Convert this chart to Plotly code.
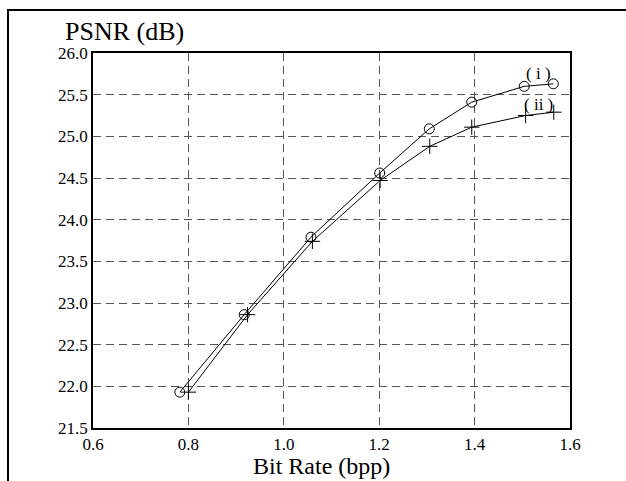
import plotly.graph_objects as go

# PSNR versus bit rate for the two coding schemes
rate_i = [0.782, 0.917, 1.057, 1.201, 1.305, 1.394, 1.504, 1.565]
psnr_i = [21.93, 22.86, 23.79, 24.56, 25.09, 25.41, 25.60, 25.63]

rate_ii = [0.800, 0.924, 1.060, 1.202, 1.306, 1.394, 1.507, 1.566]
psnr_ii = [21.93, 22.86, 23.74, 24.47, 24.88, 25.11, 25.25, 25.29]

x_ticks = [0.6, 0.8, 1.0, 1.2, 1.4, 1.6]
y_ticks = [21.5, 22.0, 22.5, 23.0, 23.5, 24.0, 24.5, 25.0, 25.5, 26.0]

SERIF = "Liberation Serif"

W, H = 626, 481
ML, MR, MT, MB = 93, W - 570, 53, H - 428

fig = go.Figure()
fig.add_trace(go.Scatter(
    x=rate_i, y=psnr_i, mode="lines+markers", name="(i)",
    line=dict(color="black", width=1),
    marker=dict(symbol="circle-open", size=10, color="black", line=dict(width=1)),
))
fig.add_trace(go.Scatter(
    x=rate_ii, y=psnr_ii, mode="lines+markers", name="(ii)",
    line=dict(color="black", width=1),
    marker=dict(symbol="cross-thin-open", size=11, color="black", line=dict(width=1, color="black")),
))

# curve labels
fig.add_annotation(x=1.535, y=25.76, text="( i )", showarrow=False,
                   font=dict(family=SERIF, size=17, color="black"))
fig.add_annotation(x=1.535, y=25.38, text="( ii )", showarrow=False,
                   font=dict(family=SERIF, size=17, color="black"))

# helpers converting pixel positions to paper coordinates
def px_x(p):
    return (p - ML) / (W - ML - MR)

def px_y(p):
    return (H - MB - p) / (H - MT - MB)

# axis titles
fig.add_annotation(xref="paper", yref="paper", x=px_x(63), y=px_y(32),
                   xanchor="left", yanchor="middle", text="PSNR (dB)", showarrow=False,
                   font=dict(family=SERIF, size=26, color="black"))
fig.add_annotation(xref="paper", yref="paper", x=px_x(321), y=px_y(466),
                   xanchor="center", yanchor="middle", text="Bit Rate (bpp)", showarrow=False,
                   font=dict(family=SERIF, size=24, color="black"))

# outer frame lines (top and left)
fig.add_shape(type="line", xref="paper", yref="paper",
              x0=px_x(7), x1=px_x(630), y0=px_y(10), y1=px_y(10),
              line=dict(color="black", width=2))
fig.add_shape(type="line", xref="paper", yref="paper",
              x0=px_x(8), x1=px_x(8), y0=px_y(10), y1=px_y(485),
              line=dict(color="black", width=2))

axis_common = dict(
    showline=True, mirror=True, linecolor="black", linewidth=1.5,
    showgrid=True, gridcolor="#555555", gridwidth=1, griddash="8px,5px",
    zeroline=False, ticks="", tickfont=dict(family=SERIF, size=17, color="black"),
)
fig.update_xaxes(range=[0.6, 1.6], tickvals=x_ticks,
                 ticktext=[f"{v:.1f}" for v in x_ticks], **axis_common)
fig.update_yaxes(range=[21.5, 26.0], tickvals=y_ticks,
                 ticktext=[f"{v:.1f}" for v in y_ticks], **axis_common)

fig.update_layout(
    width=W, height=H,
    margin=dict(l=ML, r=MR, t=MT, b=MB, autoexpand=False),
    paper_bgcolor="white", plot_bgcolor="white",
    showlegend=False,
)

fig.write_html("out.html")
